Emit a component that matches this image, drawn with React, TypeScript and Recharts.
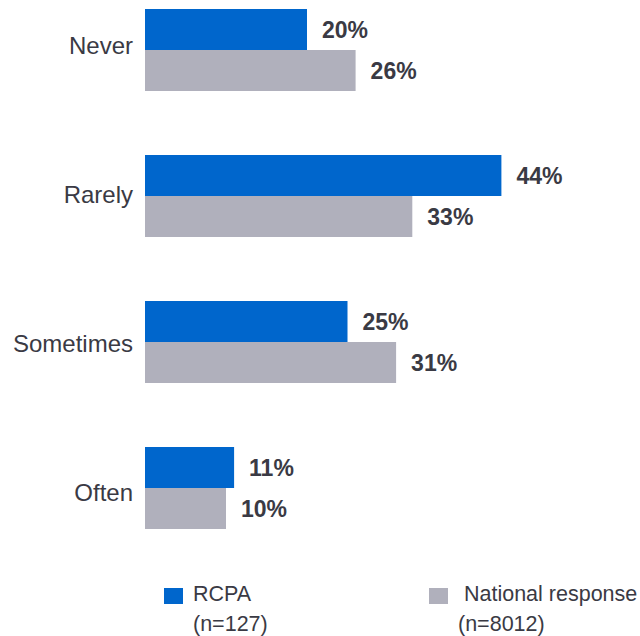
import React from 'react';
import { BarChart, Bar, XAxis, YAxis, LabelList, Legend } from 'recharts';

const CATEGORIES = ['Never', 'Rarely', 'Sometimes', 'Often'];
const RCPA = [20, 44, 25, 11];
const NATIONAL = [26, 33, 31, 10];

const BLUE = '#0066CC';
const GREY = '#B0B0BC';
const TEXT = '#3A3A44';
const FONT = '"Liberation Sans", Arial, sans-serif';

const data = CATEGORIES.map((name, i) => ({ name, rcpa: RCPA[i], national: NATIONAL[i] }));

// category labels in the source sit on a slightly wider pitch than the bars
const CategoryTick = ({ x, y, payload, index }: any) => (
  <text
    x={x}
    y={y + (index - 1.5) * 2.85}
    dy="0.355em"
    textAnchor="end"
    fontSize={24}
    fill={TEXT}
    fontFamily={FONT}
  >
    {payload.value}
  </text>
);

const LegendBox = () => (
  <div style={{ position: 'relative', width: 640, height: 75, fontFamily: FONT, fontSize: 21.5, color: TEXT, lineHeight: '30px' }}>
    <div style={{ position: 'absolute', left: 164, top: 27, width: 19, height: 16, background: BLUE }} />
    <div style={{ position: 'absolute', left: 193, top: 18, whiteSpace: 'pre' }}>
      {'RCPA'}
      <br />
      {'(n=127)'}
    </div>
    <div style={{ position: 'absolute', left: 429, top: 27, width: 19, height: 16, background: GREY }} />
    <div style={{ position: 'absolute', left: 458, top: 18, whiteSpace: 'pre' }}>
      {' National response'}
      <br />
      {'(n=8012)'}
    </div>
  </div>
);

const fmt = (v: any) => `${v}%`;
const labelStyle = { fontSize: 23, fontWeight: 'bold', fill: TEXT, fontFamily: FONT };

export default function App() {
  return (
    <div style={{ position: 'absolute', left: 0, top: -23 }}>
      <BarChart
        width={640}
        height={659}
        data={data}
        layout="vertical"
        margin={{ top: 0, right: 9, bottom: 0, left: 0 }}
        barGap={0}
        barSize={41}
      >
        <XAxis type="number" domain={[0, 60]} hide />
        <YAxis
          type="category"
          dataKey="name"
          width={145}
          axisLine={false}
          tickLine={false}
          tickSize={0}
          tickMargin={12}
          tick={<CategoryTick />}
        />
        <Legend verticalAlign="bottom" wrapperStyle={{ left: 0, width: 640 }} content={() => <LegendBox />} />
        <Bar dataKey="rcpa" fill={BLUE} isAnimationActive={false}>
          <LabelList dataKey="rcpa" position="right" offset={15} formatter={fmt} style={labelStyle} />
        </Bar>
        <Bar dataKey="national" fill={GREY} isAnimationActive={false}>
          <LabelList dataKey="national" position="right" offset={15} formatter={fmt} style={labelStyle} />
        </Bar>
      </BarChart>
    </div>
  );
}
